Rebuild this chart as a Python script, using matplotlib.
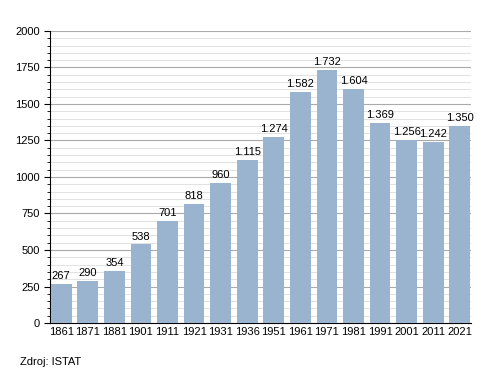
import matplotlib.pyplot as plt
from matplotlib.ticker import MultipleLocator

years = ["1861", "1871", "1881", "1901", "1911", "1921", "1931", "1936",
         "1951", "1961", "1971", "1981", "1991", "2001", "2011", "2021"]
population = [267, 290, 354, 538, 701, 818, 960, 1115,
              1274, 1582, 1732, 1604, 1369, 1256, 1242, 1350]

plt.rcParams['font.family'] = ['Liberation Sans', 'DejaVu Sans']

fig = plt.figure(figsize=(5, 3.73), dpi=100)
ax = fig.add_axes([0.1, 0.134, 0.842, 0.783])

x = range(len(years))
ax.bar(x, population, width=0.78, color="#9ab3cf", zorder=3)

for i, v in enumerate(population):
    label = f"{v:,}".replace(",", ".")
    ax.text(i, v + 20, label, ha="center", va="bottom", fontsize=8, zorder=4)

ax.set_ylim(0, 2000)
ax.set_xlim(-0.42, len(years) - 0.58)
ax.yaxis.set_major_locator(MultipleLocator(250))
ax.yaxis.set_minor_locator(MultipleLocator(50))
ax.grid(axis="y", which="major", color="#aaaaaa", linewidth=0.8, zorder=0)
ax.grid(axis="y", which="minor", color="#dddddd", linewidth=0.6, zorder=0)

ax.set_xticks(list(x))
ax.set_xticklabels(years)
ax.tick_params(axis="x", length=0, labelsize=8, pad=3)
ax.tick_params(axis="y", which="major", length=4, labelsize=8)
ax.tick_params(axis="y", which="minor", length=2)

for side in ["top", "right"]:
    ax.spines[side].set_visible(False)
ax.spines["left"].set_linewidth(0.8)
ax.spines["bottom"].set_linewidth(0.8)

fig.text(0.04, 0.015, "Zdroj: ISTAT", fontsize=8, ha="left", va="bottom")

fig.savefig("out.png", dpi=100)
